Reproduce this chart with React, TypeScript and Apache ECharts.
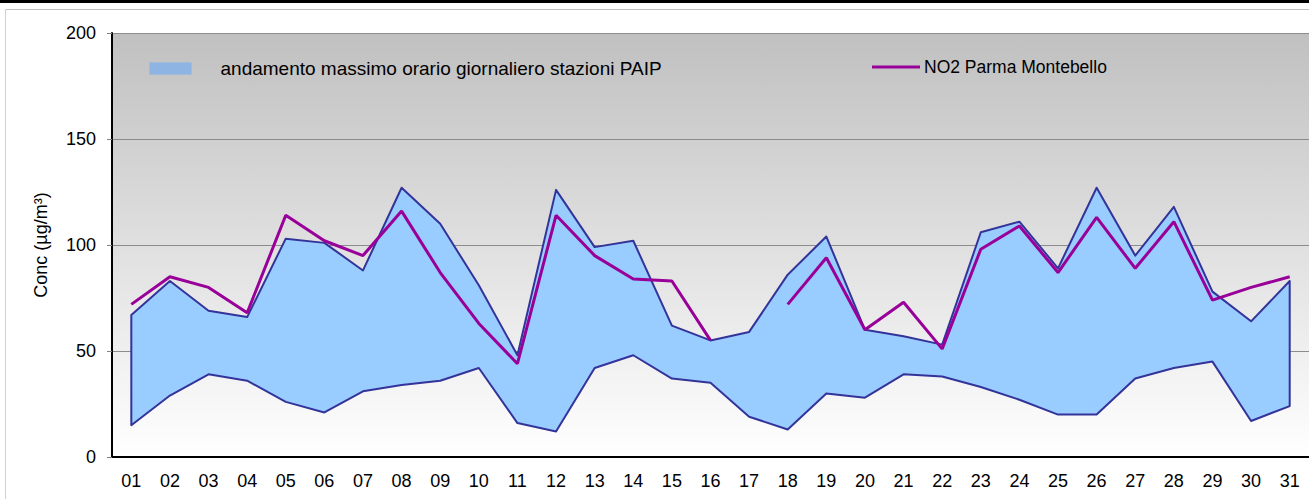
import React, { useEffect, useRef } from "react";
import * as echarts from "echarts";

const days = ["01","02","03","04","05","06","07","08","09","10","11","12","13","14","15","16","17","18","19","20","21","22","23","24","25","26","27","28","29","30","31"];
const paipMax = [67,83,69,66,103,101,88,127,110,81,48,126,99,102,62,55,59,86,104,60,57,53,106,111,89,127,95,118,78,64,83];
const paipMin = [15,29,39,36,26,21,31,34,36,42,16,12,42,48,37,35,19,13,30,28,39,38,33,27,20,20,37,42,45,17,24];
const no2 = [72,85,80,68,114,102,95,116,87,63,44,114,95,84,83,55,null,72,94,60,73,51,98,109,87,113,89,111,74,80,85];
const yTicks = { min: 0, max: 200, interval: 50 };

const bandName = "andamento massimo orario giornaliero stazioni PAIP";
const lineName = "NO2 Parma Montebello";
const FONT = "'Liberation Sans', Arial, sans-serif";

export default function App() {
  const ref = useRef<HTMLDivElement>(null);
  useEffect(() => {
    document.body.style.margin = "0";
    const chart = echarts.init(ref.current!, null, { renderer: "svg" });
    const bandData = days.map((d, i) => [i, paipMin[i], paipMax[i]]);
    chart.setOption({
      animation: false,
      textStyle: { fontFamily: FONT },
      graphic: [
        { type: "rect", left: 0, top: 0, shape: { x: 0, y: 0, width: 1309, height: 3 }, style: { fill: "#000" }, silent: true },
        { type: "line", shape: { x1: 5.5, y1: 9.5, x2: 1309, y2: 9.5 }, style: { stroke: "#c0c0c0", lineWidth: 1 }, silent: true },
        { type: "line", shape: { x1: 5.5, y1: 9.5, x2: 5.5, y2: 499 }, style: { stroke: "#d0d0d0", lineWidth: 1 }, silent: true },
      ],
      legend: [
        {
          data: [{ name: bandName, icon: "rect", itemStyle: { color: "#8db4e2", borderColor: "#a6bcd6", borderWidth: 1 } }],
          left: 149, top: 59, padding: 0, itemWidth: 42, itemHeight: 12, selectedMode: false,
          textStyle: { fontSize: 19, color: "#000", fontFamily: FONT, padding: [0, 0, 0, 24] },
        },
        {
          data: [{ name: lineName, icon: "rect", itemStyle: { color: "#990099" } }],
          left: 872, top: 58, padding: 0, itemWidth: 48, itemHeight: 3, selectedMode: false,
          textStyle: { fontSize: 17.5, color: "#000", fontFamily: FONT, padding: [0, 0, 0, -1] },
        },
      ],
      grid: {
        left: 112, top: 33, width: 1199, height: 424, show: true, borderWidth: 0,
        backgroundColor: new echarts.graphic.LinearGradient(0, 0, 0, 1, [
          { offset: 0, color: "#c0c0c0" },
          { offset: 1, color: "#ffffff" },
        ]),
      },
      xAxis: {
        type: "category", data: days, boundaryGap: true,
        axisLine: { show: true, lineStyle: { color: "#000", width: 2 } },
        axisTick: { show: false },
        axisLabel: { color: "#000", fontSize: 18, margin: 15, fontFamily: FONT },
        splitLine: { show: false },
      },
      yAxis: {
        type: "value", min: yTicks.min, max: yTicks.max, interval: yTicks.interval,
        name: "Conc (µg/m³)", nameLocation: "middle", nameGap: 62, nameRotate: 90,
        nameTextStyle: { color: "#000", fontSize: 18, fontFamily: FONT },
        axisLine: { show: true, lineStyle: { color: "#000", width: 2 } },
        axisTick: { show: true, length: 5, lineStyle: { color: "#808080" } },
        axisLabel: { color: "#000", fontSize: 18, margin: 16, fontFamily: FONT },
        splitLine: { show: true, lineStyle: { color: "#8c8c8c", width: 1 } },
      },
      series: [
        {
          name: bandName,
          type: "custom",
          data: bandData,
          encode: { x: 0, y: [1, 2] },
          itemStyle: { color: "#8db4e2" },
          renderItem: (params: any, api: any) => {
            if (params.dataIndex !== 0) return { type: "group", children: [] };
            const pts: number[][] = [];
            for (let i = 0; i < days.length; i++) pts.push(api.coord([i, paipMax[i]]));
            for (let i = days.length - 1; i >= 0; i--) pts.push(api.coord([i, paipMin[i]]));
            return {
              type: "polygon",
              shape: { points: pts },
              style: { fill: "#99ccff", stroke: "#333399", lineWidth: 2, lineJoin: "round" },
            };
          },
          z: 2,
        },
        {
          name: lineName,
          type: "line",
          data: no2,
          connectNulls: false,
          symbol: "none",
          showSymbol: false,
          lineStyle: { color: "#990099", width: 3 },
          itemStyle: { color: "#990099" },
          z: 3,
        },
      ],
    });
    return () => chart.dispose();
  }, []);
  return <div ref={ref} style={{ width: 1309, height: 499 }} />;
}
